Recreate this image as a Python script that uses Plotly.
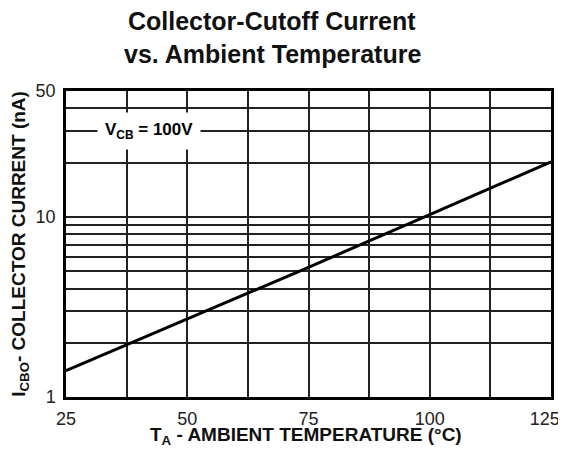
import math
import plotly.graph_objects as go

temp_c = [25, 50, 75, 100, 125]
icbo_na = [1.4, 2.7, 5.25, 10.3, 20.2]
x_ticks = [25, 50, 75, 100, 125]
x_grid = [25, 37.5, 50, 62.5, 75, 87.5, 100, 112.5, 125]
y_ticks = [1, 10, 50]
y_grid = [1, 2, 3, 4, 5, 6, 7, 8, 9, 10, 20, 30, 40, 50]

FONT = "Liberation Sans, Arial, sans-serif"


def x_label(v):
    if v not in x_ticks:
        return ""
    # keep the last label inside the visible page edge
    return str(v) + ("\u2002\u2009" if v == x_ticks[-1] else "")


fig = go.Figure()
fig.add_trace(go.Scatter(x=temp_c, y=icbo_na, mode="lines",
                         line=dict(color="black", width=3), showlegend=False))

# the page body adds an 8px offset, so the figure is drawn 8px smaller
fig.update_layout(
    width=558, height=446,
    margin=dict(l=58, r=15, t=83, b=57, autoexpand=False),
    paper_bgcolor="white", plot_bgcolor="white",
    font=dict(family=FONT, color="black"),
)
fig.update_xaxes(range=[25, 125], tickvals=x_grid,
                 ticktext=[x_label(v) for v in x_grid],
                 showgrid=True, gridcolor="#222", gridwidth=1.5,
                 showline=True, linecolor="black", linewidth=2.5, mirror=True,
                 ticks="", tickfont=dict(size=18, color="#222"), automargin=False,
                 ticklabelstandoff=4, ticklabeloverflow="allow",
                 zeroline=False)
fig.update_yaxes(type="log", range=[0, math.log10(50)], tickvals=y_grid,
                 ticktext=[str(v) if v in y_ticks else "" for v in y_grid],
                 showgrid=True, gridcolor="#222", gridwidth=1.5,
                 showline=True, linecolor="black", linewidth=2.5, mirror=True,
                 ticks="", tickfont=dict(size=18, color="#222"), automargin=False,
                 ticklabelstandoff=4, ticklabeloverflow="allow",
                 title=dict(text="<b>I<sub>CBO</sub>- COLLECTOR CURRENT (nA)</b>",
                            font=dict(size=19, color="#111"), standoff=10),
                 zeroline=False)
# x-axis title
fig.add_annotation(x=0.495, y=-0.126, xref="paper", yref="paper", yanchor="middle",
                   text="<b>T<sub>A</sub> - AMBIENT TEMPERATURE (°C)</b>", showarrow=False,
                   font=dict(size=19, color="#111"))
# title as two centred lines
fig.add_annotation(x=0.425, y=1.228, xref="paper", yref="paper", yanchor="middle",
                   text="<b>Collector-Cutoff Current</b>", showarrow=False,
                   font=dict(size=25, color="#111"))
fig.add_annotation(x=0.425, y=1.12, xref="paper", yref="paper", yanchor="middle",
                   text="<b>vs. Ambient Temperature</b>", showarrow=False,
                   font=dict(size=25, color="#111"))
fig.add_annotation(x=42.2, y=math.log10(30), xref="x", yref="y",
                   text="<b>V<sub>CB</sub> = 100V</b>", showarrow=False,
                   font=dict(size=17, color="black"), bgcolor="white",
                   borderpad=7)
fig.write_html("out.html")
